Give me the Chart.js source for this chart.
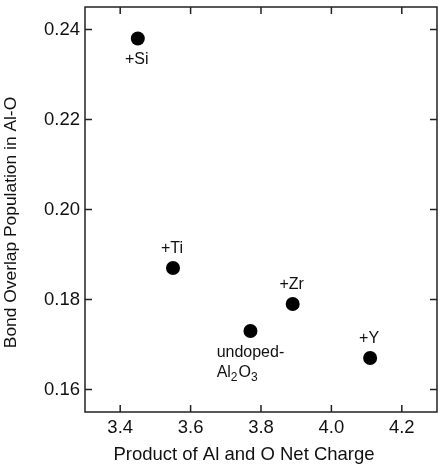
<!DOCTYPE html>
<html>
<head>
<meta charset="utf-8">
<script src="https://cdn.jsdelivr.net/npm/chart.js@4.4.1/dist/chart.umd.min.js"></script>
<style>
  body { margin: 0; background: #fff; }
  #wrap { width: 444px; height: 464px; }
</style>
</head>
<body>
<div id="wrap"><canvas id="chart"></canvas></div>
<script>
// data
const dopants = ['+Si', '+Ti', 'undoped', '+Zr', '+Y'];
const chargeProduct = [3.45, 3.55, 3.77, 3.89, 4.11];
const overlapPop = [0.238, 0.187, 0.173, 0.179, 0.167];
const xTicks = [3.4, 3.6, 3.8, 4.0, 4.2];
const yTicks = [0.16, 0.18, 0.20, 0.22, 0.24];

// where each label sits relative to its point
const labelPlace = ['below', 'above', 'below', 'above', 'above'];

const FONT = '"Liberation Sans", Arial, sans-serif';
const INK = '#222';

const frameAndLabels = {
  id: 'frameAndLabels',
  afterDraw(chart) {
    const ctx = chart.ctx;
    const a = chart.chartArea;
    const xs = chart.scales.x;
    const ys = chart.scales.y;
    const tl = 7;
    ctx.save();
    ctx.strokeStyle = INK;
    ctx.lineWidth = 1.5;
    ctx.strokeRect(a.left, a.top, a.right - a.left, a.bottom - a.top);
    ctx.beginPath();
    xTicks.forEach(v => {
      const px = xs.getPixelForValue(v);
      ctx.moveTo(px, a.bottom); ctx.lineTo(px, a.bottom - tl);
      ctx.moveTo(px, a.top); ctx.lineTo(px, a.top + tl);
    });
    yTicks.forEach(v => {
      const py = ys.getPixelForValue(v);
      ctx.moveTo(a.left, py); ctx.lineTo(a.left + tl, py);
      ctx.moveTo(a.right, py); ctx.lineTo(a.right - tl, py);
    });
    ctx.stroke();

    // axis titles
    ctx.fillStyle = '#111';
    ctx.font = '18.5px ' + FONT;
    ctx.textAlign = 'center';
    ctx.textBaseline = 'alphabetic';
    ctx.fillText('Product of Al and O Net Charge', 244, 460);
    ctx.save();
    ctx.font = '17.4px ' + FONT;
    ctx.translate(16, 222.5);
    ctx.rotate(-Math.PI / 2);
    ctx.fillText('Bond Overlap Population in Al-O', 0, 0);
    ctx.restore();

    // point labels
    ctx.font = '16px ' + FONT;
    dopants.forEach((name, i) => {
      const px = xs.getPixelForValue(chargeProduct[i]);
      const py = ys.getPixelForValue(overlapPop[i]);
      if (name === 'undoped') {
        const w = ctx.measureText('undoped-').width;
        const left = px - w / 2;
        ctx.textAlign = 'left';
        ctx.fillText('undoped-', left, py + 26);
        let x = left;
        const parts = [['Al', false], ['2', true], ['O', false], ['3', true]];
        parts.forEach(([t, sub]) => {
          ctx.font = (sub ? '12px ' : '16px ') + FONT;
          ctx.fillText(t, x, py + 46 + (sub ? 4 : 0));
          x += ctx.measureText(t).width + (sub ? 1 : 0);
        });
        ctx.textAlign = 'center';
        ctx.font = '16px ' + FONT;
      } else {
        const dy = labelPlace[i] === 'above' ? -15 : 25;
        ctx.fillText(name, px - 1, py + dy);
      }
    });
    ctx.restore();
  }
};

new Chart(document.getElementById('chart'), {
  type: 'scatter',
  data: {
    datasets: [{
      data: chargeProduct.map((x, i) => ({ x: x, y: overlapPop[i] })),
      backgroundColor: '#000',
      borderWidth: 0,
      pointRadius: 7,
      pointHoverRadius: 7
    }]
  },
  options: {
    responsive: true,
    maintainAspectRatio: false,
    animation: false,
    layout: { padding: { top: 7, right: 6, left: 0, bottom: 0 } },
    plugins: { legend: { display: false }, tooltip: { enabled: false } },
    scales: {
      x: {
        min: 3.3, max: 4.3,
        afterBuildTicks: s => { s.ticks = xTicks.map(v => ({ value: v })); },
        afterFit: s => { s.height = 52; s.paddingLeft = 0; s.paddingRight = 0; },
        grid: { display: false, drawTicks: false },
        border: { display: false },
        ticks: {
          padding: 5,
          color: '#111',
          font: { family: FONT, size: 18.5 },
          maxRotation: 0,
          callback: v => v.toFixed(1)
        }
      },
      y: {
        min: 0.155, max: 0.245,
        afterBuildTicks: s => { s.ticks = yTicks.map(v => ({ value: v })); },
        afterFit: s => { s.width = 85; s.paddingTop = 0; s.paddingBottom = 0; },
        grid: { display: false, drawTicks: false },
        border: { display: false },
        ticks: {
          padding: 5,
          color: '#111',
          font: { family: FONT, size: 18.5 },
          callback: v => v.toFixed(2)
        }
      }
    }
  },
  plugins: [frameAndLabels]
});
</script>
</body>
</html>
